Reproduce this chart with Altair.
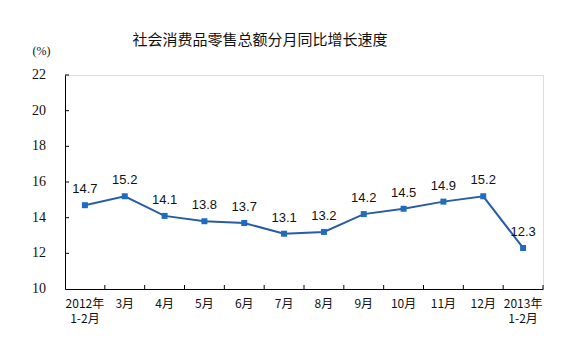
import altair as alt
import pandas as pd

categories = ["2012年 1-2月", "3月", "4月", "5月", "6月", "7月", "8月", "9月",
              "10月", "11月", "12月", "2013年 1-2月"]
values = [14.7, 15.2, 14.1, 13.8, 13.7, 13.1, 13.2, 14.2, 14.5, 14.9, 15.2, 12.3]
labels = ["14.7", "15.2", "14.1", "13.8", "13.7", "13.1", "13.2", "14.2", "14.5", "14.9", "15.2", "12.3"]
y_ticks = [10, 12, 14, 16, 18, 20, 22]
title_text = ["社会消费品零售总额分月同比增长速度"]

df = pd.DataFrame({"cat": categories, "val": values, "lab": labels})
df["line2"] = [c.split(" ")[1] if " " in c else "" for c in categories]
ticks_df = pd.DataFrame({"t": y_ticks})
title_df = pd.DataFrame({"title": title_text})

W, H = 478, 214
xscale = alt.Scale(paddingInner=0, paddingOuter=0)
yscale = alt.Scale(domain=[10, 22])

x_enc = alt.X("cat:N", sort=categories, scale=xscale,
              axis=alt.Axis(title=None, labelAngle=0, ticks=False, domainColor="#000",
                            labelFont="Noto Sans CJK SC", labelFontSize=12, labelColor="#111",
                            labelPadding=9, labelBaseline="top",
                            labelOverlap=False,
                            labelExpr="split(datum.label, ' ')[0]"))
y_enc = alt.Y("val:Q", scale=yscale,
              axis=alt.Axis(title="(%)", titleAngle=0, titleX=-33, titleY=-18, titleAlign="left",
                            titleFont="Liberation Serif", titleFontSize=12, titleFontWeight="normal",
                            titleColor="#111", labels=False,
                            values=y_ticks, grid=False, ticks=False, domainColor="#000"))

line = alt.Chart(df).mark_line(color="#2a5ca6", strokeWidth=2).encode(x=x_enc, y=y_enc)
pts = alt.Chart(df).mark_square(color="#1e6cc0", size=36, opacity=1).encode(
    x=alt.X("cat:N", sort=categories), y="val:Q")
txt = alt.Chart(df).mark_text(font="Liberation Sans", fontSize=13, color="#111",
                              baseline="alphabetic", dy=-12).encode(
    x=alt.X("cat:N", sort=categories), y="val:Q", text="lab:N")
line2 = alt.Chart(df).mark_text(font="Noto Sans CJK SC", fontSize=12, color="#111",
                                align="center", baseline="top").encode(
    x=alt.X("cat:N", sort=categories), y=alt.value(H + 25), text="line2:N")

xticks = alt.Chart(df).mark_rule(color="#000", strokeWidth=1).encode(
    x=alt.X("cat:N", sort=categories, bandPosition=1),
    y=alt.value(H), y2=alt.value(H - 4))
yticks = alt.Chart(ticks_df[ticks_df.t > 10]).mark_rule(color="#000", strokeWidth=1).encode(
    y=alt.Y("t:Q", scale=yscale), x=alt.value(0), x2=alt.value(4))
ylabels = alt.Chart(ticks_df).mark_text(font="Liberation Serif", fontSize=14, color="#111",
                                        align="right", baseline="middle").encode(
    y=alt.Y("t:Q", scale=yscale), x=alt.value(-19), text="t:Q")

title = alt.Chart(title_df).mark_text(font="Noto Sans CJK SC", fontSize=15, color="#111",
                                      align="center", baseline="alphabetic").encode(
    text="title:N", x=alt.value(195), y=alt.value(-30))

chart = alt.layer(line, xticks, yticks, ylabels, pts, txt, line2, title).properties(
    width=W, height=H,
    autosize=alt.AutoSizeParams(type="none"),
    padding={"left": 65, "top": 75, "right": 43, "bottom": 68},
).configure_view(stroke=None).configure(background="white")

chart.save("out.html", embed_options={"renderer": "svg", "actions": False})
